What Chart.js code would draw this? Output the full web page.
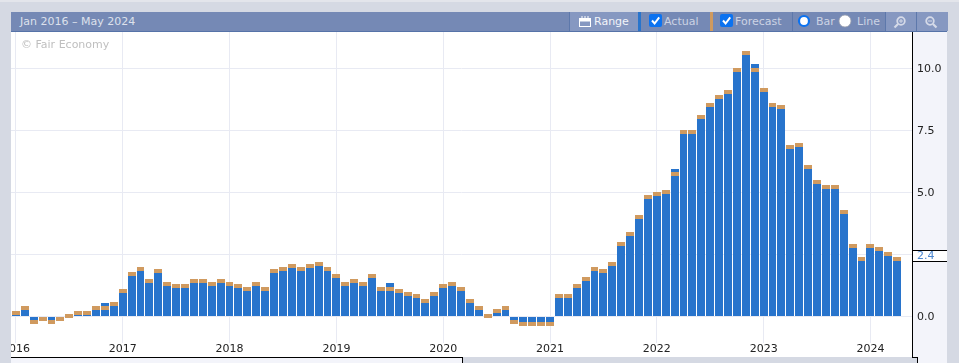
<!DOCTYPE html>
<html>
<head>
<meta charset="utf-8">
<script src="https://cdn.jsdelivr.net/npm/chart.js@4"></script>
<style>
html, body { margin: 0; padding: 0; width: 959px; height: 363px; overflow: hidden; background: #d5d9e3; font-family: "DejaVu Sans", sans-serif; font-size: 11px; }
div, svg, canvas { position: absolute; }
#topedge { left: 0; top: 0; width: 959px; height: 2px; background: #e3e5eb; }
#header { left: 11px; top: 12px; width: 936px; height: 19px; background: #7589b5; border-bottom: 1px solid #5673a8; }
.label { top: 2px; line-height: 16px; color: #ccd3e4; white-space: nowrap; }
.btn { top: 0; height: 19px; background: #8698c1; border-left: 1px solid #5d78ab; }
.sep { top: 0; height: 19px; width: 1px; background: #5d78ab; }
.stripe { top: 0; height: 19px; width: 3px; }
.check { top: 2px; width: 13px; height: 13px; border-radius: 2px; background: #0b72f0; }
#white { left: 11px; top: 32px; width: 901px; height: 325px; background: #fff; }
#axispanel { left: 912px; top: 32px; width: 34px; height: 331px; background: #f3f4fa; border-left: 1px solid #000; }
#bottomleft { left: 11px; top: 357px; width: 452px; height: 6px; background: #f3f4fa; border-top: 1px solid #000; border-right: 1px solid #000; box-sizing: border-box; }
#bottomstep { left: 912px; top: 357px; width: 5px; height: 6px; background: #d5d9e3; border-top: 1px solid #000; border-right: 1px solid #000; }
#chart { left: 11px; top: 32px; }
#copy { left: 21px; top: 38px; color: #bfbfbf; line-height: 14px; }
</style>
</head>
<body>
<div id="topedge"></div>
<div id="white"></div>
<div id="axispanel"></div>
<div id="bottomleft"></div>
<div id="bottomstep"></div>

<div id="header">
  <div class="label" style="left:9px;color:#dde1ec">Jan 2016 – May 2024</div>

  <div class="btn" style="left:558px;width:68px"></div>
  <svg style="left:568px;top:4px" width="12" height="11" viewBox="0 0 12 11">
    <rect x="0.5" y="2.5" width="11" height="8" fill="none" stroke="#fff" stroke-width="1"/>
    <rect x="0.5" y="2.5" width="11" height="3" fill="#fff"/>
    <path d="M3 0v3M6 0v3M9 0v3" stroke="#fff" stroke-width="1"/>
  </svg>
  <div class="label" style="left:583px;color:#f2f4f9">Range</div>

  <div class="stripe" style="left:627px;background:#2874cc"></div>
  <div class="check" style="left:638px"></div>
  <svg style="left:638px;top:2px" width="13" height="13" viewBox="0 0 13 13"><path d="M3 6.5l2.6 3L10.2 3.4" fill="none" stroke="#fff" stroke-width="2"/></svg>
  <div class="label" style="left:653px">Actual</div>

  <div class="stripe" style="left:699px;background:#d09a5f"></div>
  <div class="check" style="left:709px"></div>
  <svg style="left:709px;top:2px" width="13" height="13" viewBox="0 0 13 13"><path d="M3 6.5l2.6 3L10.2 3.4" fill="none" stroke="#fff" stroke-width="2"/></svg>
  <div class="label" style="left:724px">Forecast</div>

  <div class="sep" style="left:781px"></div>
  <svg style="left:786px;top:2px" width="14" height="14" viewBox="0 0 14 14"><circle cx="7" cy="7" r="5" fill="#fff" stroke="#0b72f0" stroke-width="2.2"/></svg>
  <div class="label" style="left:805px">Bar</div>
  <svg style="left:827px;top:2px" width="14" height="14" viewBox="0 0 14 14"><circle cx="7" cy="7" r="6" fill="#fff" stroke="#9aa0ad" stroke-width="0.8"/></svg>
  <div class="label" style="left:846px">Line</div>

  <div class="btn" style="left:874px;width:30px"></div>
  <svg style="left:882px;top:3px" width="14" height="14" viewBox="0 0 14 14">
    <circle cx="8" cy="6" r="3.8" fill="none" stroke="#d5dae8" stroke-width="1.8"/>
    <path d="M5 9l-3.5 3.5" stroke="#d5dae8" stroke-width="2.2"/>
    <path d="M6 6h4M8 4v4" stroke="#d5dae8" stroke-width="1"/>
  </svg>
  <div class="btn" style="left:905px;width:31px"></div>
  <svg style="left:913px;top:3px" width="14" height="14" viewBox="0 0 14 14">
    <circle cx="6" cy="6" r="3.8" fill="none" stroke="#d5dae8" stroke-width="1.8"/>
    <path d="M9 9l3.5 3.5" stroke="#d5dae8" stroke-width="2.2"/>
    <path d="M4 6h4" stroke="#d5dae8" stroke-width="1"/>
  </svg>
</div>

<canvas id="chart" width="936" height="325"></canvas>
<div id="copy">© Fair Economy</div>

<script>
const yearLabels = ['2016', '2017', '2018', '2019', '2020', '2021', '2022', '2023', '2024'];
const yTicks = ['0.0', '2.5', '5.0', '7.5', '10.0'];

// one value per month from Jan 2016
const forecast = [
    0.2, 0.4, -0.3, -0.2, -0.3, -0.2, 0.1, 0.2, 0.2, 0.4, 0.4, 0.6,
    1.1, 1.8, 2.0, 1.5, 1.9, 1.4, 1.3, 1.3, 1.5, 1.5, 1.4, 1.5,
    1.4, 1.3, 1.2, 1.4, 1.2, 1.9, 2.0, 2.1, 2.0, 2.1, 2.2, 2.0,
    1.7, 1.4, 1.5, 1.4, 1.7, 1.2, 1.2, 1.1, 1.0, 0.9, 0.7, 1.0,
    1.3, 1.4, 1.2, 0.7, 0.4, 0.1, 0.3, 0.4, -0.3, -0.4, -0.4, -0.4,
    -0.4, 0.9, 0.9, 1.3, 1.6, 2.0, 1.9, 2.2, 3.0, 3.4, 4.1, 4.9,
    5.0, 5.1, 5.8, 7.5, 7.5, 8.1, 8.6, 8.9, 9.1, 10.0, 10.7, 10.0,
    9.2, 8.6, 8.5, 6.9, 7.0, 6.1, 5.5, 5.3, 5.3, 4.3, 2.9, 2.4,
    2.9, 2.8, 2.6, 2.4
];
const actual = [
    0.2, 0.4, -0.3, -0.05, -0.3, -0.2, 0.1, 0.2, 0.2, 0.4, 0.55, 0.6,
    1.1, 1.8, 2.0, 1.5, 1.9, 1.4, 1.3, 1.3, 1.5, 1.5, 1.4, 1.5,
    1.4, 1.3, 1.2, 1.4, 1.2, 1.9, 2.0, 2.1, 2.0, 2.1, 2.2, 2.0,
    1.7, 1.4, 1.5, 1.4, 1.7, 1.2, 1.35, 1.1, 1.0, 0.9, 0.7, 1.0,
    1.3, 1.4, 1.2, 0.7, 0.4, 0.1, 0.3, 0.4, -0.3, -0.4, -0.4, -0.4,
    -0.4, 0.9, 0.9, 1.3, 1.6, 2.0, 1.9, 2.2, 3.0, 3.4, 4.1, 4.9,
    5.0, 5.1, 5.95, 7.5, 7.5, 8.1, 8.6, 8.9, 9.1, 10.0, 10.7, 10.15,
    9.2, 8.6, 8.5, 6.9, 7.0, 6.1, 5.5, 5.3, 5.3, 4.3, 2.9, 2.4,
    2.9, 2.8, 2.6, 2.4
];
const latestLabel = '2.4';

// the forecast shows as a thin band ending at its value
const bandHeight = 0.16;

const actualPoints = actual.map((v, i) => ({ x: i, y: v }));
const forecastPoints = forecast.map((v, i) => ({
    x: i,
    y: v < 0 ? [v, v + bandHeight] : [v - bandHeight, v]
}));

// keep bars on whole pixels so the white gaps stay sharp
const snapBars = {
    id: 'snapBars',
    afterDatasetsUpdate(chart) {
        const xScale = chart.scales.x;
        chart.data.datasets.forEach((ds, d) => {
            const isBand = ds.label === 'Forecast';
            chart.getDatasetMeta(d).data.forEach((bar, i) => {
                const left = Math.round(xScale.getPixelForValue(i) - 4);
                const nextLeft = Math.round(xScale.getPixelForValue(i + 1) - 4);
                const w = nextLeft - left - 1;
                bar.x = left + w / 2;
                bar.width = w;
                if (isBand) {
                    const h = Math.round(Math.abs(bar.base - bar.y));
                    if (forecast[i] < 0) {
                        // floating bars below zero run from the top down
                        bar.y = Math.round(Math.max(bar.y, bar.base));
                        bar.base = bar.y - h;
                    } else {
                        bar.y = Math.round(bar.y);
                        bar.base = bar.y + h;
                    }
                } else {
                    bar.y = Math.round(bar.y);
                    bar.base = Math.round(bar.base);
                }
            });
        });
    }
};

const latestMarker = {
    id: 'latestMarker',
    afterDraw(chart) {
        const ctx = chart.ctx;
        const y = Math.round(chart.scales.y.getPixelForValue(parseFloat(latestLabel))) - 1;
        const left = chart.chartArea.right + 1;
        ctx.save();
        ctx.fillStyle = '#ffffff';
        ctx.fillRect(left, y - 6, 34, 11);
        ctx.fillStyle = '#000000';
        ctx.fillRect(left, y - 6, 34, 1);
        ctx.fillRect(left, y + 5, 34, 1);
        ctx.fillStyle = '#4a86d0';
        ctx.font = '11px "DejaVu Sans"';
        ctx.textBaseline = 'middle';
        ctx.fillText(latestLabel, left + 4, y);
        ctx.restore();
    }
};

new Chart(document.getElementById('chart'), {
    type: 'bar',
    data: {
        datasets: [
            { label: 'Forecast', data: forecastPoints, backgroundColor: '#d09a5f', order: 1 },
            { label: 'Actual', data: actualPoints, backgroundColor: '#2874cc', order: 2 }
        ]
    },
    options: {
        responsive: false,
        animation: false,
        layout: { padding: 0 },
        datasets: { bar: { grouped: false, barThickness: 8, inflateAmount: 0 } },
        plugins: { legend: { display: false }, tooltip: { enabled: false } },
        scales: {
            x: {
                type: 'linear',
                offset: false,
                min: -0.56,
                max: 100.67,
                afterFit(scale) {
                    scale.height = 14;
                    scale.paddingLeft = 0;
                    scale.paddingRight = 0;
                },
                grid: { color: '#e8eaf3', tickLength: 0, offset: false },
                border: { display: false },
                ticks: {
                    stepSize: 12,
                    includeBounds: false,
                    autoSkip: false,
                    maxRotation: 0,
                    padding: 0,
                    color: '#222222',
                    font: { family: 'DejaVu Sans', size: 11 },
                    callback: v => yearLabels[v / 12]
                }
            },
            y: {
                position: 'right',
                min: -1.07,
                max: 11.45,
                afterFit(scale) {
                    scale.width = 35;
                    scale.paddingTop = 0;
                    scale.paddingBottom = 0;
                },
                grid: { color: '#e8eaf3', tickLength: 0 },
                border: { display: false },
                ticks: {
                    stepSize: 2.5,
                    includeBounds: false,
                    padding: 5,
                    labelOffset: 1,
                    color: '#222222',
                    font: { family: 'DejaVu Sans', size: 11 },
                    callback: v => yTicks[v / 2.5]
                }
            }
        }
    },
    plugins: [snapBars, latestMarker]
});
</script>
</body>
</html>
